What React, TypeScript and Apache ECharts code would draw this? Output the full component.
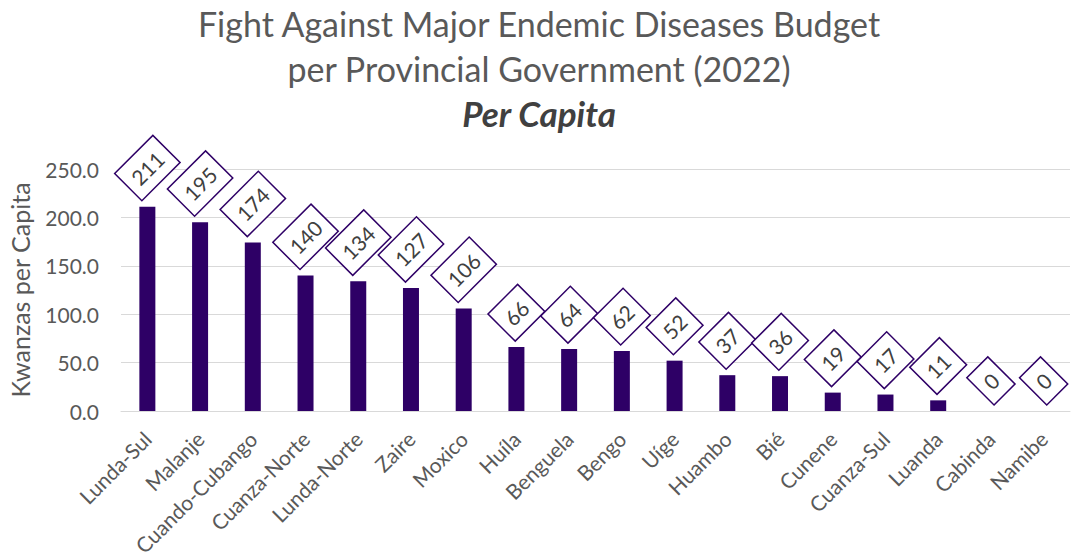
import React, { useEffect, useRef } from "react";
import * as echarts from "echarts";

const provinces = [
  "Lunda-Sul", "Malanje", "Cuando-Cubango", "Cuanza-Norte", "Lunda-Norte", "Zaire",
  "Moxico", "Huíla", "Benguela", "Bengo", "Uíge", "Huambo", "Bié", "Cunene",
  "Cuanza-Sul", "Luanda", "Cabinda", "Namibe",
];
const perCapita = [211, 195, 174, 140, 134, 127, 106, 66, 64, 62, 52, 37, 36, 19, 17, 11, 0, 0];
const titleLines = ["Fight Against Major Endemic Diseases Budget", "per Provincial Government (2022)"];
const subtitle = "Per Capita";
const yAxisName = "Kwanzas per Capita";

const FONT = "Lato, 'Open Sans', sans-serif";
const PURPLE = "#2E0066";
const GREY = "#595959";

const LABEL_FONT = 21;
const PAD_V = 8;
const PAD_H = 8;

function measure(text: string, size: number): number {
  const c = document.createElement("canvas").getContext("2d");
  if (!c) return text.length * size * 0.55;
  c.font = `${size}px Lato`;
  return c.measureText(text).width;
}

export default function App() {
  const ref = useRef<HTMLDivElement>(null);
  useEffect(() => {
    document.body.style.margin = "0";
    const chart = echarts.init(ref.current!, null, { renderer: "svg" });
    const data = perCapita.map((v) => {
      const txt = String(Math.round(v));
      const w = measure(txt, LABEL_FONT) + 2 * PAD_H;
      const h = LABEL_FONT + 2 * PAD_V;
      const half = (w + h) / (2 * Math.SQRT2);
      return { value: v, label: { distance: 7 + half } };
    });
    chart.setOption({
      animation: false,
      textStyle: { fontFamily: FONT },
      title: [
        {
          text: titleLines.join("\n"),
          left: "center",
          top: -4,
          textStyle: { fontFamily: FONT, fontSize: 34, fontWeight: "normal", color: GREY, lineHeight: 45 },
        },
        {
          text: subtitle,
          left: "center",
          top: 90,
          textStyle: { fontFamily: FONT, fontSize: 35, fontWeight: "bold", fontStyle: "italic", color: "#404040" },
        },
      ],
      grid: { left: 121, right: 8, top: 169, bottom: 149, outerBoundsMode: "none" },
      xAxis: {
        type: "category",
        data: provinces,
        axisTick: { show: false },
        axisLine: { lineStyle: { color: "#d9d9d9", width: 1 } },
        axisLabel: { interval: 0, rotate: 45, fontSize: 21, color: GREY, fontFamily: FONT, margin: 24 },
      },
      yAxis: {
        type: "value",
        min: 0,
        max: 250,
        interval: 50,
        name: yAxisName,
        nameLocation: "middle",
        nameGap: 89,
        nameTextStyle: { fontSize: 25, color: GREY, fontFamily: FONT },
        axisLabel: { formatter: (v: number) => v.toFixed(1), fontSize: 21, color: GREY, fontFamily: FONT, margin: 22 },
        splitLine: { lineStyle: { color: "#d9d9d9", width: 1 } },
        axisLine: { show: false },
        axisTick: { show: false },
      },
      series: [
        {
          type: "bar",
          data,
          barWidth: 16,
          itemStyle: { color: PURPLE },
          label: {
            show: true,
            position: "top",
            rotate: 45,
            align: "center",
            verticalAlign: "middle",
            formatter: (p: any) => String(Math.round(p.value)),
            fontSize: LABEL_FONT,
            lineHeight: LABEL_FONT,
            color: "#404040",
            fontFamily: FONT,
            backgroundColor: "#fff",
            borderColor: PURPLE,
            borderWidth: 1.5,
            padding: [PAD_V, PAD_H, PAD_V, PAD_H],
          },
        },
      ],
    });
    return () => chart.dispose();
  }, []);
  return <div ref={ref} style={{ position: "absolute", left: 0, top: 0, width: 1078, height: 560 }} />;
}
